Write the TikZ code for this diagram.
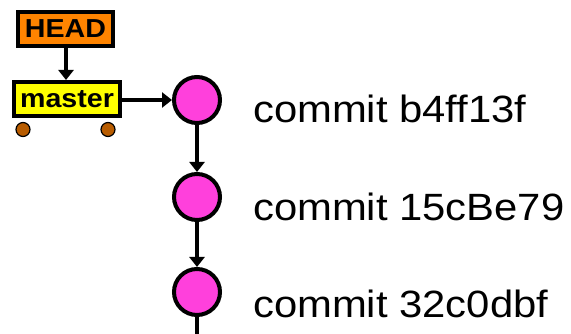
\documentclass[tikz,border=0pt]{standalone}
\usepackage{fontspec}
\usepackage{graphicx}
\setmainfont{Liberation Sans}
\usetikzlibrary{arrows.meta}
\definecolor{headorange}{HTML}{FF8400}
\definecolor{mastyellow}{HTML}{FFFF00}
\definecolor{commitpink}{HTML}{FF40DC}
\definecolor{wheelbrown}{HTML}{B85C00}
\tikzset{
  refbox/.style={draw=black, line width=4pt, rectangle, inner sep=0pt, minimum height=34pt, font=\fontsize{26}{26}\selectfont\bfseries},
  commitnode/.style={draw=black, line width=4pt, circle, fill=commitpink, minimum size=46pt, inner sep=0pt},
  wheel/.style={draw=black, line width=1.2pt, circle, fill=wheelbrown, minimum size=14pt, inner sep=0pt},
  conn/.style={line width=3.5pt, -{Triangle[length=10pt,width=15pt]}},
  plainconn/.style={line width=3.5pt},
  label/.style={anchor=base west, inner sep=0pt, font=\fontsize{38}{38}\selectfont}
}
\begin{document}
\begin{tikzpicture}[x=1pt,y=1pt]
\useasboundingbox (0,0) rectangle (571,-334);
\node[refbox, fill=headorange, minimum width=95pt] (head) at (65.5,-29) {\scalebox{1.1}[1]{HEAD}};
\node[wheel] (w1) at (23,-129.5) {};
\node[wheel] (w2) at (108,-129.5) {};
\node[refbox, fill=mastyellow, minimum width=106pt] (master) at (67,-99) {\scalebox{1.1}[1]{master}};
\node[commitnode] (c1) at (197,-100) {};
\node[commitnode] (c2) at (197,-197) {};
\node[commitnode] (c3) at (197,-292) {};
\coordinate (tail) at (197,-334);
\draw[conn] (head.south -| 66,0) -- (master.north -| 66,0);
\draw[conn] (master.east |- 0,-100) -- (c1.west);
\draw[conn] (c1.south) -- (c2.north);
\draw[conn] (c2.south) -- (c3.north);
\draw[plainconn] (c3.south) -- (tail);
\node[label] (t1) at (253,-123) {\scalebox{1.1}[1]{commit b4ff13f}};
\node[label] (t2) at (253,-221) {\scalebox{1.1}[1]{commit 15cBe79}};
\node[label] (t3) at (253,-317) {\scalebox{1.1}[1]{commit 32c0dbf}};
\end{tikzpicture}
\end{document}
